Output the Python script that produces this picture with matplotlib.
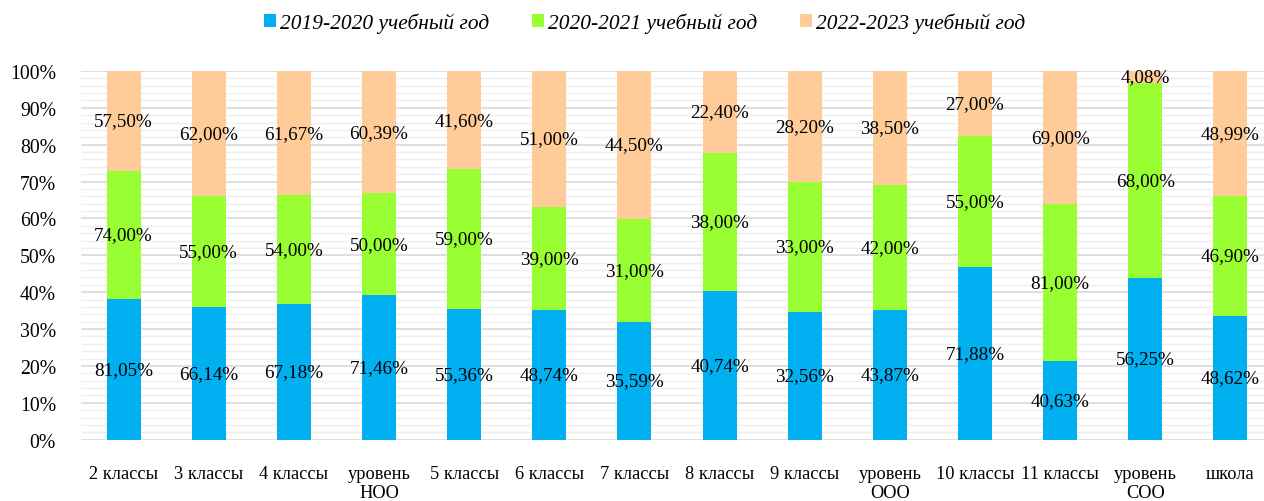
import matplotlib.pyplot as plt
import numpy as np
from matplotlib.ticker import MultipleLocator, PercentFormatter

categories = ["2 классы", "3 классы", "4 классы", "уровень\nНОО", "5 классы", "6 классы",
              "7 классы", "8 классы", "9 классы", "уровень\nООО", "10 классы", "11 классы",
              "уровень\nСОО", "школа"]
y2019 = [81.05, 66.14, 67.18, 71.46, 55.36, 48.74, 35.59, 40.74, 32.56, 43.87, 71.88, 40.63, 56.25, 48.62]
y2020 = [74.00, 55.00, 54.00, 50.00, 59.00, 39.00, 31.00, 38.00, 33.00, 42.00, 55.00, 81.00, 68.00, 46.90]
y2022 = [57.50, 62.00, 61.67, 60.39, 41.60, 51.00, 44.50, 22.40, 28.20, 38.50, 27.00, 69.00, 4.08, 48.99]
series_names = ["2019-2020 учебный год", "2020-2021 учебный год", "2022-2023 учебный год"]
colors = ["#00B0F0", "#99FF33", "#FFCC99"]

plt.rcParams['font.family'] = ['Liberation Serif', 'DejaVu Serif']

data = np.array([y2019, y2020, y2022])
share = data / data.sum(axis=0) * 100

fig = plt.figure(figsize=(12.64, 5.02), dpi=100)
ax = fig.add_axes([81 / 1264, 1 - 440.7 / 502, (1273 - 81) / 1264, (440.7 - 72) / 502])

x = np.arange(len(categories))
bottom = np.zeros(len(categories))
for i in range(3):
    ax.bar(x, share[i], bottom=bottom, width=0.40, color=colors[i], label=series_names[i], zorder=3)
    for j in range(len(categories)):
        txt = f"{data[i, j]:.2f}%".replace(".", ",")
        ax.text(x[j], bottom[j] + share[i, j] / 2, txt, ha="center", va="center",
                fontsize=13.8, color="black", zorder=4)
    bottom += share[i]

ax.set_xlim(-0.5, len(categories) - 0.5)
ax.set_ylim(0, 100)
ax.yaxis.set_major_locator(MultipleLocator(10))
ax.yaxis.set_minor_locator(MultipleLocator(2))
ax.yaxis.set_major_formatter(PercentFormatter(decimals=0))
ax.grid(axis="y", which="major", color="#D9D9D9", linewidth=1.2, zorder=0)
ax.grid(axis="y", which="minor", color="#EFEFEF", linewidth=1.0, zorder=0)
ax.set_xticks(x)
ax.set_xticklabels(categories, fontsize=13.2, linespacing=1.15)
ax.tick_params(axis="y", which="both", length=0, labelsize=14.2, pad=18)
ax.tick_params(axis="x", length=0, pad=18)
for s in ax.spines.values():
    s.set_visible(False)

fig.legend(loc="center", bbox_to_anchor=(645 / 1264, 1 - 24 / 502), ncol=3, frameon=False,
           prop={"style": "italic", "size": 15.4}, handlelength=0.55, handleheight=0.55,
           handletextpad=0.2, columnspacing=2.0)

fig.savefig("out.png", dpi=100)
